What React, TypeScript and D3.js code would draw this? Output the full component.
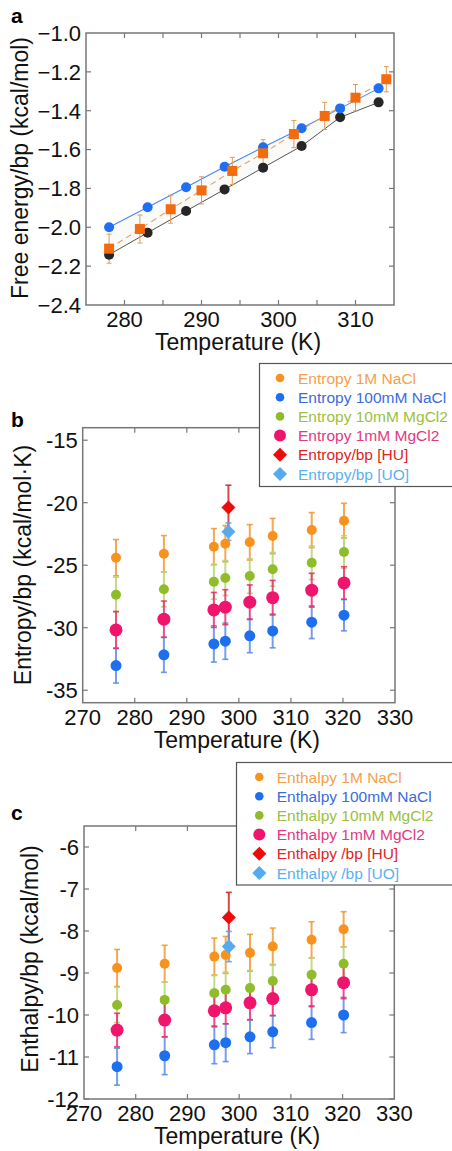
import React, { useRef, useEffect } from "react";
import * as d3 from "d3";

// ---------- panel a : free energy ----------
const tempsA = [278, 283, 288, 293, 298, 303, 308, 313];
const freeBlue = [-2.0, -1.897, -1.794, -1.688, -1.588, -1.49, -1.388, -1.285];
const freeBlack = [-2.141, -2.028, -1.916, -1.805, -1.693, -1.582, -1.434, -1.357];
const tempsOrangeA = [278, 282, 286, 290, 294, 298, 302, 306, 310, 314];
const freeOrange = [-2.11, -2.009, -1.907, -1.81, -1.71, -1.619, -1.52, -1.427, -1.333, -1.238];
const freeOrangeErr = [0.075, 0.072, 0.072, 0.07, 0.07, 0.07, 0.07, 0.07, 0.068, 0.065];
const ticksXA = [280, 290, 300, 310];
const ticksYA = [-2.4, -2.2, -2.0, -1.8, -1.6, -1.4, -1.2, -1.0];

// ---------- panels b / c ----------
const temps = [276.4, 285.6, 295.2, 297.4, 302.1, 306.5, 314.0, 320.2];
const tempRef = 298.0;

const entropy1MNaCl = [-24.4, -24.08, -23.52, -23.28, -23.17, -22.67, -22.19, -21.44];
const entropy100mMNaCl = [-33.03, -32.17, -31.3, -31.08, -30.65, -30.26, -29.56, -29.0];
const entropy10mMMg = [-27.36, -26.93, -26.32, -26.02, -25.86, -25.33, -24.8, -23.95];
const entropy1mMMg = [-30.18, -29.32, -28.58, -28.36, -27.96, -27.6, -27.0, -26.42];
const entropyErr1M = [1.45, 1.45, 1.45, 1.45, 1.42, 1.41, 1.4, 1.39];
const entropyErr100 = [1.4, 1.4, 1.45, 1.45, 1.35, 1.35, 1.31, 1.25];
const entropyErr10 = [1.4, 1.4, 1.4, 1.4, 1.38, 1.35, 1.35, 1.3];
const entropyErr1 = [1.48, 1.45, 1.4, 1.4, 1.38, 1.38, 1.35, 1.3];
const entropyHU = -20.38;
const entropyHUErr = 1.78;
const entropyUO = -22.32;
const entropyUOErr = 0.7;

const enthalpy1MNaCl = [-8.88, -8.78, -8.61, -8.57, -8.52, -8.37, -8.21, -7.96];
const enthalpy100mMNaCl = [-11.23, -10.97, -10.71, -10.66, -10.52, -10.4, -10.18, -10.0];
const enthalpy10mMMg = [-9.76, -9.64, -9.48, -9.4, -9.36, -9.19, -9.04, -8.78];
const enthalpy1mMMg = [-10.36, -10.12, -9.9, -9.83, -9.71, -9.61, -9.4, -9.23];
const enthalpyErr1M = [0.44, 0.44, 0.44, 0.44, 0.44, 0.44, 0.43, 0.42];
const enthalpyErr100 = [0.44, 0.45, 0.45, 0.45, 0.4, 0.38, 0.4, 0.42];
const enthalpyErr10 = [0.42, 0.42, 0.42, 0.42, 0.42, 0.4, 0.4, 0.4];
const enthalpyErr1 = [0.4, 0.4, 0.38, 0.38, 0.4, 0.4, 0.4, 0.38];
const enthalpyHU = -7.68;
const enthalpyHUErr = 0.6;
const enthalpyUO = -8.37;
const enthalpyUOErr = 0.36;

const ticksXBC = [270, 280, 290, 300, 310, 320, 330];
const ticksYB = [-35, -30, -25, -20, -15];
const ticksYC = [-12, -11, -10, -9, -8, -7, -6];

const entropyLabels = [
  "Entropy 1M NaCl",
  "Entropy 100mM NaCl",
  "Entropy 10mM MgCl2",
  "Entropy 1mM MgCl2",
  "Entropy/bp [HU]",
  "Entropy/bp [UO]",
];
const enthalpyLabels = [
  "Enthalpy 1M NaCl",
  "Enthalpy 100mM NaCl",
  "Enthalpy 10mM MgCl2",
  "Enthalpy 1mM MgCl2",
  "Enthalpy /bp [HU]",
  "Enthalpy /bp [UO]",
];

const FONT = "'Liberation Sans', Arial, sans-serif";
const FRAME = "#777";

// series styles (order: 1M NaCl, 100mM NaCl, 10mM MgCl2, 1mM MgCl2)
const seriesStyle = [
  { fill: "#f7921e", err: "#f39a33", text: "#f4a04c", r: 5 },
  { fill: "#1d6ff0", err: "#5f8ee8", text: "#3a6cdc", r: 5.5 },
  { fill: "#8fbc2a", err: "#b9d474", text: "#9cc040", r: 5 },
  { fill: "#f0156c", err: "#e8306e", text: "#e03a80", r: 6.5 },
];
const huStyle = { fill: "#ee0b0b", err: "#d42a2a", text: "#de2424" };
const uoStyle = { fill: "#55aaf0", err: "#6a9ee0", text: "#5ab0f0" };

const App = () => {
  const svgRef = useRef(null);

  useEffect(() => {
    const svg = d3.select(svgRef.current);
    svg.selectAll("*").remove();

    const diamond = d3.symbol().type(d3.symbolDiamond2).size(125);

    // helper: frame with inward ticks on all sides
    const drawFrame = (g, x, y, xTicks, yTicks) => {
      const [x0, x1] = x.range();
      const [y0, y1] = y.range();
      const t = 5;
      xTicks.forEach((v) => {
        const px = x(v);
        g.append("line").attr("x1", px).attr("x2", px).attr("y1", y0).attr("y2", y0 - t)
          .attr("stroke", FRAME).attr("stroke-width", 1.2);
        g.append("line").attr("x1", px).attr("x2", px).attr("y1", y1).attr("y2", y1 + t)
          .attr("stroke", FRAME).attr("stroke-width", 1.2);
      });
      yTicks.forEach((v) => {
        const py = y(v);
        g.append("line").attr("x1", x0).attr("x2", x0 + t).attr("y1", py).attr("y2", py)
          .attr("stroke", FRAME).attr("stroke-width", 1.2);
        g.append("line").attr("x1", x1).attr("x2", x1 - t).attr("y1", py).attr("y2", py)
          .attr("stroke", FRAME).attr("stroke-width", 1.2);
      });
      g.append("rect")
        .attr("x", x0).attr("y", y1).attr("width", x1 - x0).attr("height", y0 - y1)
        .attr("fill", "none").attr("stroke", FRAME).attr("stroke-width", 1.5);
    };

    const drawLabels = (g, x, y, xLabels, yLabels, fmt, yTitle, titleX) => {
      const [x0, x1] = x.range();
      const [y0, y1] = y.range();
      xLabels.forEach((v) => {
        g.append("text").attr("x", x(v)).attr("y", y0 + 22).attr("text-anchor", "middle")
          .attr("font-family", FONT).attr("font-size", 22).attr("fill", "#111").text(v);
      });
      yLabels.forEach((v) => {
        g.append("text").attr("x", x0 - 5).attr("y", y(v)).attr("dy", "0.36em")
          .attr("text-anchor", "end").attr("font-family", FONT).attr("font-size", 22)
          .attr("fill", "#111").text(fmt(v));
      });
      g.append("text").attr("x", (x0 + x1) / 2 - 2).attr("y", y0 + 45).attr("text-anchor", "middle")
        .attr("font-family", FONT).attr("font-size", 23).attr("fill", "#111").text("Temperature (K)");
      g.append("text")
        .attr("transform", `translate(${titleX}, ${yTitle[1]}) rotate(-90)`)
        .attr("text-anchor", "middle").attr("font-family", FONT).attr("font-size", 23)
        .attr("fill", "#111").text(yTitle[0]);
    };

    // ================= panel a =================
    const ga = svg.append("g");
    const xA = d3.scaleLinear().domain([275, 315]).range([86, 394]);
    const yA = d3.scaleLinear().domain([-2.4, -1.0]).range([305, 33]);

    const blueArr = tempsA.map((t, i) => ({ t, v: freeBlue[i] }));
    const blackArr = tempsA.map((t, i) => ({ t, v: freeBlack[i] }));
    const orangeArr = tempsOrangeA.map((t, i) => ({ t, v: freeOrange[i], e: freeOrangeErr[i] }));

    const band = d3.area()
      .x((d) => xA(d.t))
      .y0((d, i) => yA(freeBlack[i]))
      .y1((d) => yA(d.v));
    ga.append("path").datum(blueArr).attr("d", band).attr("fill", "#eef3ea").attr("opacity", 0.3);

    const lineA = d3.line().x((d) => xA(d.t)).y((d) => yA(d.v));
    ga.append("path").datum(blackArr).attr("d", lineA).attr("fill", "none")
      .attr("stroke", "#555").attr("stroke-width", 1);
    ga.append("path").datum(blueArr).attr("d", lineA).attr("fill", "none")
      .attr("stroke", "#4a86ea").attr("stroke-width", 1.1);
    ga.append("path").datum(orangeArr).attr("d", lineA).attr("fill", "none")
      .attr("stroke", "#e0a070").attr("stroke-width", 1.1).attr("stroke-dasharray", "6,4");

    // error bars orange
    orangeArr.forEach((d) => {
      const px = xA(d.t);
      ga.append("line").attr("x1", px).attr("x2", px).attr("y1", yA(d.v - d.e)).attr("y2", yA(d.v + d.e))
        .attr("stroke", "#e29a55").attr("stroke-width", 1);
      [d.v - d.e, d.v + d.e].forEach((v) => {
        ga.append("line").attr("x1", px - 2.5).attr("x2", px + 2.5).attr("y1", yA(v)).attr("y2", yA(v))
          .attr("stroke", "#e29a55").attr("stroke-width", 1);
      });
    });

    blackArr.forEach((d) => {
      ga.append("circle").attr("cx", xA(d.t)).attr("cy", yA(d.v)).attr("r", 5).attr("fill", "#262626");
    });
    blueArr.forEach((d) => {
      ga.append("circle").attr("cx", xA(d.t)).attr("cy", yA(d.v)).attr("r", 5).attr("fill", "#1e6ff2");
    });
    orangeArr.forEach((d) => {
      ga.append("rect").attr("x", xA(d.t) - 5).attr("y", yA(d.v) - 5).attr("width", 10).attr("height", 10)
        .attr("fill", "#f26b0f");
    });

    drawFrame(ga, xA, yA, d3.range(280, 315, 5), ticksYA.slice(1, -1));
    drawLabels(ga, xA, yA, ticksXA, ticksYA, d3.format(".1f"),
      ["Free energy/bp (kcal/mol)", 168], 28);
    ga.append("text").attr("x", 11).attr("y", 23).attr("font-family", FONT).attr("font-weight", "bold")
      .attr("font-size", 21).text("a");

    // ================= panels b, c =================
    const drawPanel = (cfg) => {
      const g = svg.append("g");
      const x = d3.scaleLinear().domain([270, 330]).range(cfg.xRange);
      const y = d3.scaleLinear().domain(cfg.yDomain).range(cfg.yRange);

      // error bars
      const errBar = (px, v, e, color) => {
        g.append("line").attr("x1", px).attr("x2", px).attr("y1", y(v - e)).attr("y2", y(v + e))
          .attr("stroke", color).attr("stroke-width", 2).attr("opacity", 0.85);
        [v - e, v + e].forEach((w) => {
          g.append("line").attr("x1", px - 3).attr("x2", px + 3).attr("y1", y(w)).attr("y2", y(w))
            .attr("stroke", color).attr("stroke-width", 1.6).attr("opacity", 0.9);
        });
      };

      const order = [1, 0, 2, 3];
      order.forEach((s) => {
        temps.forEach((t, i) => errBar(x(t), cfg.series[s][i], cfg.errs[s][i], seriesStyle[s].err));
      });
      errBar(x(tempRef), cfg.hu, cfg.huErr, huStyle.err);
      errBar(x(tempRef), cfg.uo, cfg.uoErr, uoStyle.err);

      order.forEach((s) => {
        temps.forEach((t, i) => {
          g.append("circle").attr("cx", x(t)).attr("cy", y(cfg.series[s][i]))
            .attr("r", seriesStyle[s].r).attr("fill", seriesStyle[s].fill);
        });
      });
      g.append("path").attr("d", diamond).attr("transform", `translate(${x(tempRef)},${y(cfg.hu)})`)
        .attr("fill", huStyle.fill);
      g.append("path").attr("d", diamond).attr("transform", `translate(${x(tempRef)},${y(cfg.uo)})`)
        .attr("fill", uoStyle.fill);

      drawFrame(g, x, y, ticksXBC.slice(1, -1), cfg.yTicks);
      drawLabels(g, x, y, ticksXBC, cfg.yTicks, (v) => `${v}`, cfg.title, cfg.titleX);

      // legend
      const L = cfg.legend;
      g.append("rect").attr("x", L.x).attr("y", L.y).attr("width", 460 - L.x).attr("height", L.h)
        .attr("fill", "#fff").attr("stroke", "#555").attr("stroke-width", 1.2);
      const legendStyles = [...seriesStyle, huStyle, uoStyle];
      cfg.labels.forEach((lab, i) => {
        const cy = L.y + 14.5 + i * 19.2;
        const st = legendStyles[i];
        if (i < 4) {
          g.append("circle").attr("cx", L.mx).attr("cy", cy).attr("r", i === 3 ? 6 : 4.3).attr("fill", st.fill);
        } else {
          g.append("path").attr("d", diamond).attr("transform", `translate(${L.mx},${cy})`).attr("fill", st.fill);
        }
        g.append("text").attr("x", L.tx).attr("y", cy).attr("dy", "0.36em")
          .attr("font-family", FONT).attr("font-size", 15.5).attr("fill", st.text).text(lab);
      });

      g.append("text").attr("x", cfg.letter[0]).attr("y", cfg.letter[1]).attr("font-family", FONT)
        .attr("font-weight", "bold").attr("font-size", 21).text(cfg.letter[2]);
    };

    drawPanel({
      xRange: [82.7, 395],
      yDomain: [-36, -14],
      yRange: [702.7, 427.7],
      yTicks: ticksYB,
      series: [entropy1MNaCl, entropy100mMNaCl, entropy10mMMg, entropy1mMMg],
      errs: [entropyErr1M, entropyErr100, entropyErr10, entropyErr1],
      hu: entropyHU, huErr: entropyHUErr, uo: entropyUO, uoErr: entropyUOErr,
      title: ["Entropy/bp (kcal/mol\u00b7K)", 565],
      titleX: 31,
      labels: entropyLabels,
      legend: { x: 259.5, y: 363.5, h: 123, mx: 280, tx: 298 },
      letter: [11, 427, "b"],
    });

    drawPanel({
      xRange: [84, 394.3],
      yDomain: [-12, -5.5],
      yRange: [1099, 826],
      yTicks: ticksYC,
      series: [enthalpy1MNaCl, enthalpy100mMNaCl, enthalpy10mMMg, enthalpy1mMMg],
      errs: [enthalpyErr1M, enthalpyErr100, enthalpyErr10, enthalpyErr1],
      hu: enthalpyHU, huErr: enthalpyHUErr, uo: enthalpyUO, uoErr: enthalpyUOErr,
      title: ["Enthalpy/bp (kcal/mol)", 959],
      titleX: 38,
      labels: enthalpyLabels,
      legend: { x: 236.5, y: 762.5, h: 122.5, mx: 259.3, tx: 276.7 },
      letter: [11, 820, "c"],
    });
  }, []);

  return (
    <svg
      ref={svgRef}
      width={452}
      height={1151}
      style={{ position: "absolute", left: 0, top: 0, background: "#fff" }}
    />
  );
};

export default App;
